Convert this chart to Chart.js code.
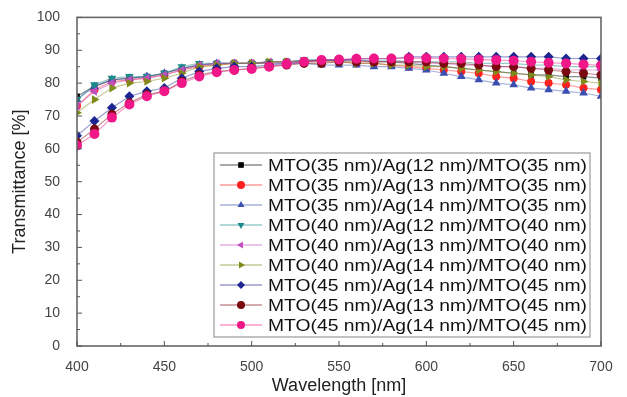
<!DOCTYPE html>
<html>
<head>
<meta charset="utf-8">
<script src="https://cdn.jsdelivr.net/npm/chart.js@4.4.0/dist/chart.umd.min.js"></script>
<style>
  html, body { margin: 0; padding: 0; background: #fff; }
  #wrap { width: 627px; height: 397px; }
</style>
</head>
<body>
<div id="wrap"><canvas id="grafico"></canvas></div>
<script>
// Longitudes de onda (nm)
const longitudes = [400, 410, 420, 430, 440, 450, 460, 470, 480, 490, 500, 510, 520, 530, 540, 550,
    560, 570, 580, 590, 600, 610, 620, 630, 640, 650, 660, 670, 680, 690, 700];

const etiquetas = [
    'MTO(35 nm)/Ag(12 nm)/MTO(35 nm)',
    'MTO(35 nm)/Ag(13 nm)/MTO(35 nm)',
    'MTO(35 nm)/Ag(14 nm)/MTO(35 nm)',
    'MTO(40 nm)/Ag(12 nm)/MTO(40 nm)',
    'MTO(40 nm)/Ag(13 nm)/MTO(40 nm)',
    'MTO(40 nm)/Ag(14 nm)/MTO(40 nm)',
    'MTO(45 nm)/Ag(14 nm)/MTO(45 nm)',
    'MTO(45 nm)/Ag(13 nm)/MTO(45 nm)',
    'MTO(45 nm)/Ag(14 nm)/MTO(45 nm)'
];

// Transmitancia (%) por muestra
const t35_12 = [76, 79, 81, 81.5, 82, 83, 84.5, 85.5, 86, 86, 86, 86.5, 86.5, 87, 87, 87, 87, 86.5, 86.5, 86, 85.5, 85, 84.5, 84, 83.5, 83, 82.5, 82.5, 82, 82, 81.5];
const t35_13 = [73, 78, 80.5, 81, 81.5, 82.5, 84, 85, 85.5, 86, 86, 86, 86.5, 86.5, 86.5, 86.5, 86, 86, 85.5, 85, 84.5, 84, 83.5, 83, 82, 81.5, 80.5, 80, 79.5, 78.5, 78];
const t35_14 = [75, 79, 81, 81.5, 82, 83, 84.5, 85.5, 86, 86, 86, 86, 86, 86, 85.5, 85.5, 85.5, 85, 85, 84.5, 84, 83, 82, 81, 80, 79.5, 78.5, 78, 77.5, 77, 76];
const t40_12 = [75, 79.5, 81.5, 82, 82, 83, 85, 86, 86, 86, 86, 86.5, 86.5, 87, 87, 87, 87, 87, 87, 86.5, 86.5, 86.5, 86.5, 86, 86, 86, 85.5, 85.5, 85, 85, 85];
const t40_13 = [73, 77.5, 80, 81, 81.5, 82.5, 84, 85.5, 86, 86, 86, 86.5, 86.5, 86.5, 87, 87, 87, 86.5, 86.5, 86.5, 86, 86, 85.5, 85.5, 85, 85, 84.5, 84.5, 84, 84, 84];
const t40_14 = [71, 75, 78.5, 80, 80.5, 81.5, 83, 85, 85.5, 86, 86, 86.5, 86.5, 86.5, 86.5, 86.5, 86, 86, 85.5, 85.5, 85, 85, 84.5, 84, 83.5, 83, 82.5, 82, 81, 80.5, 80];
const t45_14a = [64, 68.5, 72.5, 76, 77.5, 78.5, 81.5, 83.5, 84.5, 85, 85, 85.5, 86, 86.5, 87, 87, 87.5, 87.5, 87.5, 88, 88, 88, 88, 88, 88, 88, 88, 88, 87.5, 87.5, 87.5];
const t45_13 = [62, 66, 70.5, 74, 76.5, 77.5, 80.5, 82.5, 83.5, 84, 84.5, 85, 85.5, 86, 86, 86.5, 86.5, 86.5, 86.5, 86.5, 86.5, 86, 86, 85.5, 85, 85, 84.5, 84, 83.5, 83, 82.5];
const t45_14b = [61, 64.5, 69.5, 73.5, 76, 77.5, 80, 82, 83.3, 84, 84.3, 85, 85.8, 86.5, 87, 87.2, 87.4, 87.5, 87.5, 87.6, 87.6, 87.5, 87.4, 87.2, 87, 86.8, 86.5, 86.2, 86, 85.7, 85.4];

const series = [t35_12, t35_13, t35_14, t40_12, t40_13, t40_14, t45_14a, t45_13, t45_14b];

// Estilo de cada serie: color, marcador, rotación
const estilos = [
    { color: '#000000', punto: 'rect', rot: 0, r: 4 },
    { color: '#ff2020', punto: 'circle', rot: 0, r: 4 },
    { color: '#3a4fb0', punto: 'triangle', rot: 0, r: 5 },
    { color: '#1a8a8a', punto: 'triangle', rot: 180, r: 5 },
    { color: '#c050c0', punto: 'triangle', rot: -90, r: 5 },
    { color: '#7f8a18', punto: 'triangle', rot: 90, r: 5 },
    { color: '#1c2590', punto: 'rectRot', rot: 0, r: 5 },
    { color: '#7a0a10', punto: 'circle', rot: 0, r: 4.5 },
    { color: '#f01888', punto: 'circle', rot: 0, r: 5 }
];

function conAlpha(hex, a) {
    const n = parseInt(hex.slice(1), 16);
    return `rgba(${(n >> 16) & 255}, ${(n >> 8) & 255}, ${n & 255}, ${a})`;
}

const datasets = series.map((datos, i) => ({
    label: etiquetas[i],
    data: datos.map((v, j) => ({ x: longitudes[j], y: v })),
    borderColor: conAlpha(estilos[i].color, 0.45),
    borderWidth: 1.2,
    backgroundColor: estilos[i].color,
    pointBackgroundColor: estilos[i].color,
    pointBorderColor: estilos[i].color,
    pointBorderWidth: 0,
    pointStyle: estilos[i].punto,
    pointRotation: estilos[i].rot,
    pointRadius: estilos[i].r,
    tension: 0,
    order: series.length - i
}));

const fuente = "'Liberation Sans', Arial, sans-serif";

// Marco, marcas interiores y leyenda dentro del área
const marcoYLeyenda = {
    id: 'marcoYLeyenda',
    afterDatasetsDraw(chart) {
        const ctx = chart.ctx;
        const a = chart.chartArea;
        const sx = chart.scales.x, sy = chart.scales.y;
        ctx.save();
        ctx.strokeStyle = '#666';
        ctx.lineWidth = 1.6;
        ctx.strokeRect(a.left, a.top, a.right - a.left, a.bottom - a.top);

        ctx.lineWidth = 1;
        ctx.strokeStyle = '#555';
        ctx.beginPath();
        for (let v = 400; v <= 700; v += 25) {
            const px = sx.getPixelForValue(v);
            const len = v % 50 === 0 ? 5 : 3;
            ctx.moveTo(px, a.bottom);
            ctx.lineTo(px, a.bottom - len);
        }
        for (let v = 0; v <= 100; v += 5) {
            const py = sy.getPixelForValue(v);
            const len = v % 10 === 0 ? 5 : 3;
            ctx.moveTo(a.left, py);
            ctx.lineTo(a.left + len, py);
        }
        ctx.stroke();

        // Leyenda
        const caja = { x: 214, y: 153, w: 376, h: 184 };
        ctx.fillStyle = '#fff';
        ctx.fillRect(caja.x, caja.y, caja.w, caja.h);
        ctx.strokeStyle = '#999';
        ctx.lineWidth = 1.2;
        ctx.strokeRect(caja.x, caja.y, caja.w, caja.h);
        ctx.font = '16.5px ' + fuente;
        ctx.textBaseline = 'middle';
        chart.data.datasets.forEach((ds, i) => {
            const y = caja.y + 12 + i * 20;
            ctx.strokeStyle = ds.borderColor;
            ctx.lineWidth = 1.5;
            ctx.beginPath();
            ctx.moveTo(caja.x + 6, y);
            ctx.lineTo(caja.x + 48, y);
            ctx.stroke();
            ctx.fillStyle = ds.pointBackgroundColor;
            Chart.helpers.drawPoint(ctx, {
                pointStyle: ds.pointStyle,
                rotation: ds.pointRotation,
                radius: 4,
                borderWidth: 0
            }, caja.x + 27, y);
            // el texto del original está algo estirado a lo ancho
            const ancho = ctx.measureText(ds.label).width;
            const escala = 319 / ancho;
            ctx.save();
            ctx.translate(caja.x + 54, y + 1);
            ctx.scale(escala, 1);
            ctx.fillStyle = '#111';
            ctx.fillText(ds.label, 0, 0);
            ctx.restore();
        });
        ctx.restore();
    }
};

new Chart(document.getElementById('grafico'), {
    type: 'line',
    data: { datasets: datasets },
    options: {
        responsive: true,
        maintainAspectRatio: false,
        animation: false,
        layout: { padding: { top: 15, right: 26, left: 0, bottom: 0 } },
        plugins: {
            legend: { display: false },
            tooltip: { enabled: false }
        },
        scales: {
            x: {
                type: 'linear',
                min: 400,
                max: 700,
                ticks: { stepSize: 50, color: '#444', font: { family: fuente, size: 14 }, padding: 5, maxRotation: 0 },
                grid: { display: false },
                border: { display: false },
                title: { display: true, text: 'Wavelength [nm]', color: '#222', font: { family: fuente, size: 18 }, padding: { top: 1, bottom: 0 } },
                afterFit(scale) { scale.height = 51; }
            },
            y: {
                min: 0,
                max: 100,
                ticks: { stepSize: 10, color: '#444', font: { family: fuente, size: 14 }, padding: 9 },
                grid: { display: false },
                border: { display: false },
                title: { display: true, text: 'Transmittance [%]', color: '#222', font: { family: fuente, size: 18 }, padding: { top: 9, bottom: 4 } },
                afterFit(scale) { scale.width = 77; }
            }
        }
    },
    plugins: [marcoYLeyenda]
});
</script>
</body>
</html>
